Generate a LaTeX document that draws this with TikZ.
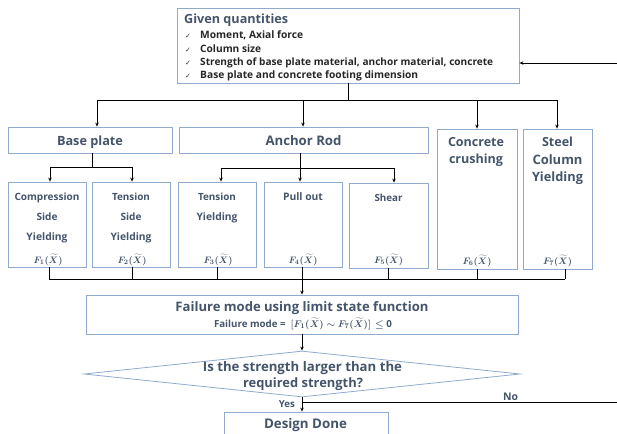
\documentclass[tikz,border=0pt]{standalone}
\usepackage{bm}
\usepackage{fontspec}
\usepackage{graphicx}
\setmainfont{Open Sans}
\newfontfamily\dvs{DejaVu Sans}
\usetikzlibrary{shapes.geometric,arrows.meta}
\definecolor{txt}{HTML}{44546A}
\definecolor{edge}{HTML}{8FAACC}
\newcommand{\fitw}[2]{\resizebox{#1pt}{!}{#2}}
\newcommand{\fx}[1]{\fitw{29}{$\bm{F_{#1}(\widetilde{X})}$}}
\begin{document}
\begin{tikzpicture}[x=1pt,y=-1pt,
  box/.style={draw=edge,line width=0.8pt,rectangle,inner sep=0pt},
  fs/.style={font=\bfseries\fontsize{11}{11}\selectfont,text=txt,inner sep=0pt,anchor=base},
  itm/.style={font=\bfseries\fontsize{10}{10}\selectfont,text=black!85,inner sep=0pt,anchor=base west},
  chk/.style={font=\dvs\fontsize{7}{7}\selectfont,text=black!80,inner sep=0pt,anchor=base west},
  mth/.style={font=\fontsize{11}{11}\selectfont,text=txt,inner sep=0pt,anchor=base},
  ln/.style={line width=0.7pt},
  arr/.style={ln,-{Stealth[length=4pt,width=3.5pt]}}]
\useasboundingbox (0,0) rectangle (617,433);
% given quantities
\node[box,minimum width=342pt,minimum height=75pt] (gq) at (348,45.5) {};
\node[fs,anchor=base west] (gqt) at (184,24) {\fitw{104}{Given quantities}};
\node[chk] (k1) at (185,39) {✓};
\node[chk] (k2) at (185,52.5) {✓};
\node[chk] (k3) at (185,65.5) {✓};
\node[chk] (k4) at (185,78.5) {✓};
\node[itm] (i1) at (200,39) {\fitw{103}{Moment, Axial force}};
\node[itm] (i2) at (200,52.5) {\fitw{61}{Column size}};
\node[itm] (i3) at (200,65.5) {\fitw{293}{Strength of base plate material, anchor material, concrete}};
\node[itm] (i4) at (200,78.5) {\fitw{218}{Base plate and concrete footing dimension}};
% level 1 boxes
\node[box,minimum width=164pt,minimum height=26pt] (bp) at (90,140) {};
\node[fs] (bpt) at (90,145) {\fitw{66}{Base plate}};
\node[box,minimum width=249pt,minimum height=26pt] (ar) at (303.5,140) {};
\node[fs] (art) at (303.5,145) {\fitw{76}{Anchor Rod}};
\node[box,minimum width=80pt,minimum height=140pt] (cc) at (477,199) {};
\node[fs] (cct1) at (476,146) {\fitw{56}{Concrete}};
\node[fs] (cct2) at (476,163) {\fitw{54}{crushing}};
\node[mth] (f6) at (477,264) {\fx6};
\node[box,minimum width=69pt,minimum height=140pt] (sc) at (557.5,199) {};
\node[fs] (sct1) at (557.5,146) {\fitw{31}{Steel}};
\node[fs] (sct2) at (557.5,164) {\fitw{50}{Column}};
\node[fs] (sct3) at (557.5,181) {\fitw{51}{Yielding}};
\node[mth] (f7) at (557.5,264) {\fx7};
% level 2 boxes
\node[box,minimum width=78pt,minimum height=85pt] (cs) at (47,224.5) {};
\node[fs] (cst1) at (47,200) {\fitw{65}{Compression}};
\node[fs] (cst2) at (47,220) {\fitw{21}{Side}};
\node[fs] (cst3) at (47,240) {\fitw{41}{Yielding}};
\node[mth] (f1) at (48,263) {\fx1};
\node[box,minimum width=78pt,minimum height=85pt] (ts) at (131,224.5) {};
\node[fs] (tst1) at (131,200) {\fitw{38}{Tension}};
\node[fs] (tst2) at (131,220) {\fitw{21}{Side}};
\node[fs] (tst3) at (131,240) {\fitw{41}{Yielding}};
\node[mth] (f2) at (132,263) {\fx2};
\node[box,minimum width=78pt,minimum height=85pt] (ty) at (217,224.5) {};
\node[fs] (tyt1) at (217,200) {\fitw{38}{Tension}};
\node[fs] (tyt2) at (217,220) {\fitw{41}{Yielding}};
\node[mth] (f3) at (218,263) {\fx3};
\node[box,minimum width=78pt,minimum height=85pt] (po) at (303,224.5) {};
\node[fs] (pot) at (303,200) {\fitw{40}{Pull out}};
\node[mth] (f4) at (303,263) {\fx4};
\node[box,minimum width=79pt,minimum height=85pt] (sh) at (388.5,225.5) {};
\node[fs] (sht) at (388.5,201) {\fitw{28}{Shear}};
\node[mth] (f5) at (388.5,263) {\fx5};
% failure mode
\node[box,minimum width=432pt,minimum height=39pt] (fm) at (302,314.5) {};
\node[fs] (fmt) at (302,311) {\fitw{253}{Failure mode using limit state function}};
\node[fs] (fms) at (303,327) {\fitw{178}{Failure mode =\enspace $\bm{[F_1(\widetilde{X})\sim F_7(\widetilde{X})]}$ \,$\bm{\leq}$ 0}};
% decision
\node[draw=edge,line width=0.8pt,diamond,inner sep=0pt,minimum width=436pt,minimum height=46pt] (dm) at (302,374) {};
\node[fs] (dmt1) at (302.5,371) {\fitw{199}{Is the strength larger than the}};
\node[fs] (dmt2) at (303,387) {\fitw{120}{required strength?}};
\node[box,minimum width=164pt,minimum height=34pt] (dd) at (306,429) {};
\node[fs] (ddt) at (305.5,428) {\fitw{83}{Design Done}};
\node[fs,anchor=base east] (yes) at (295,407) {\fitw{16}{Yes}};
\node[fs] (no) at (510.5,400) {\fitw{15}{No}};
% connectors
\coordinate (j0) at (348,100);
\draw[ln] (gq.south -| j0) -- (j0);
\draw[ln] (97,100) coordinate (j0l) -- (557,100) coordinate (j0r);
\draw[arr] (j0l) -- (j0l |- bp.north);
\draw[arr] (303,100) coordinate (j0a) -- (j0a |- ar.north);
\draw[arr] (477,100) coordinate (j0c) -- (j0c |- cc.north);
\draw[arr] (j0r) -- (j0r |- sc.north);
% base plate branch
\coordinate (j1) at (92,167);
\draw[ln] (bp.south -| j1) -- (j1);
\draw[ln] (50,167) coordinate (j1l) -- (132,167) coordinate (j1r);
\draw[arr] (j1l) -- (j1l |- cs.north);
\draw[arr] (j1r) -- (j1r |- ts.north);
% anchor branch
\coordinate (j2) at (300,168);
\draw[ln] (ar.south -| j2) -- (j2);
\draw[ln] (221,168) coordinate (j2l) -- (394,168) coordinate (j2r);
\draw[arr] (j2l) -- (j2l |- ty.north);
\draw[arr] (j2) -- (j2 |- po.north);
\draw[arr] (j2r) -- (j2r |- sh.north);
% collector
\coordinate (j3) at (302,279);
\draw[ln] (49,279) coordinate (j3a) -- (565,279) coordinate (j3g);
\draw[ln] (cs.south -| j3a) -- (j3a);
\draw[ln] (ts.south -| 132,0) -- (132,279);
\draw[ln] (ty.south) -- (ty.south |- j3);
\draw[ln] (po.south -| j3) -- (j3);
\draw[ln] (sh.south) -- (sh.south |- j3);
\draw[ln] (cc.south) -- (cc.south |- j3);
\draw[ln] (sc.south -| j3g) -- (j3g);
\draw[arr] (j3) -- (j3 |- fm.north);
\draw[arr] (fm.south -| j3) -- (dm.north);
\draw[arr] (dm.south) -- (dm.south |- dd.north);
% no loop
\coordinate (nj) at (302,402);
\coordinate (ne) at (617,402);
\draw[ln] (nj) -- (ne);
\coordinate (fe) at (617,63);
\draw[arr] (fe) -- (gq.east |- fe);
\end{tikzpicture}
\end{document}
